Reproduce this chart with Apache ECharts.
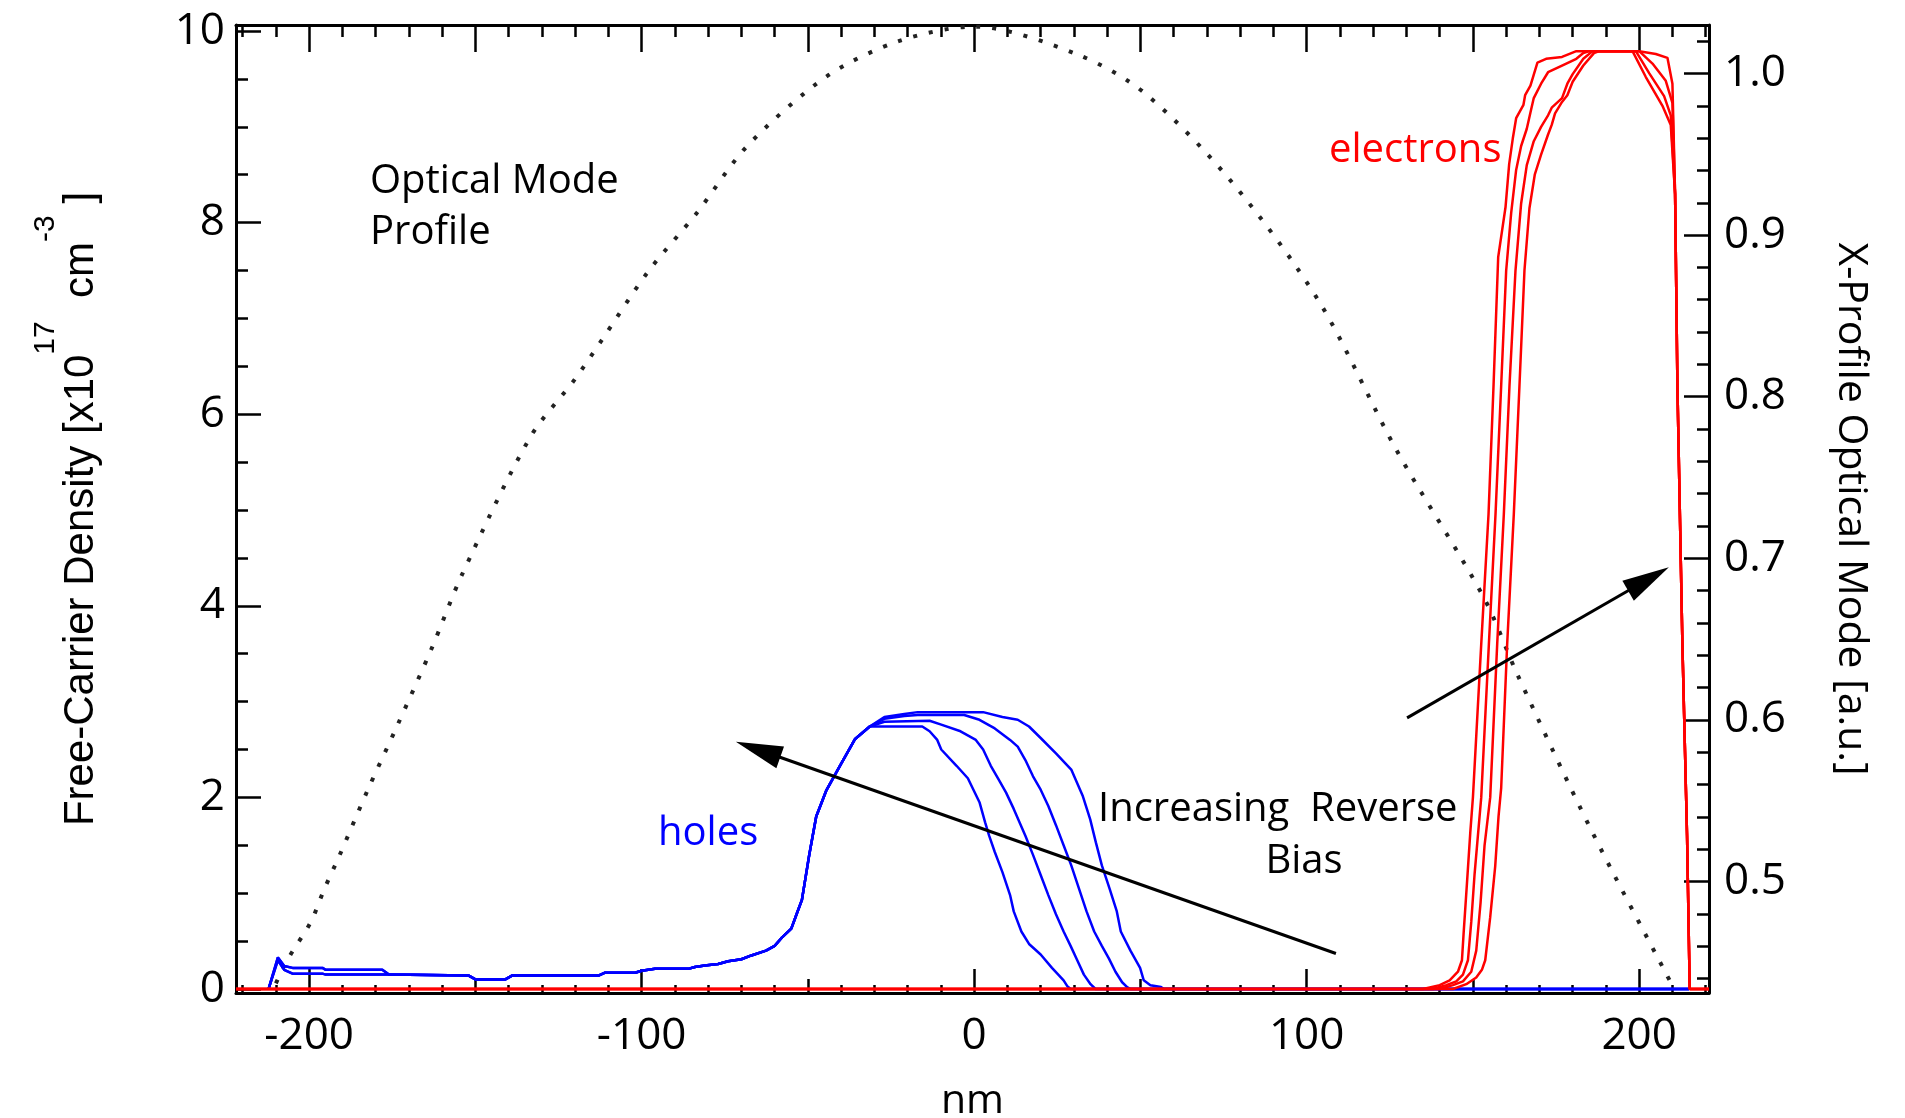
<!DOCTYPE html>
<html>
<head>
<meta charset="utf-8">
<title>Free-Carrier Density and Optical Mode</title>
<script src="https://cdn.jsdelivr.net/npm/echarts@6.0.0/dist/echarts.min.js"></script>
<style>
  html, body { margin: 0; padding: 0; background: #fff; }
  #chart { width: 1905px; height: 1118px; }
</style>
</head>
<body>
<div id="chart"></div>
<script>
// tick labels
const xMajorBottom = [-200, -100, 0, 100, 200];
const xMidBottom = [-150, -50, 50, 150];
const xMajorTop = [-200, -150, -100, -50, 0, 50, 100, 150, 200];
const yLeftLabels = [0, 2, 4, 6, 8, 10];
const yRightLabels = [0.5, 0.6, 0.7, 0.8, 0.9, 1.0];

// holes: [nm, 1e17 cm^-3], four bias levels share the left flank
const holesLeftHigh = [[-212.2, 0], [-209.4, 0.33], [-207.5, 0.24], [-205, 0.22], [-196, 0.22], [-195, 0.2], [-178, 0.2], [-176, 0.15]];
const holesLeftLow = [[-212.2, 0], [-209.4, 0.3], [-207.5, 0.2], [-205, 0.16], [-196, 0.16], [-195, 0.15], [-176, 0.15]];
const holesRise = [[-152, 0.14], [-150, 0.1], [-141, 0.1], [-139, 0.14], [-113, 0.14], [-111, 0.17], [-102, 0.17],
  [-100, 0.19], [-96, 0.21], [-86, 0.21], [-84, 0.23], [-81, 0.245], [-77, 0.26], [-74, 0.29], [-70, 0.31],
  [-67, 0.35], [-62.6, 0.4], [-60, 0.45], [-58, 0.53], [-55, 0.63], [-53.3, 0.79], [-51.8, 0.93], [-49.6, 1.4],
  [-47.5, 1.8], [-44.5, 2.07], [-40.2, 2.34], [-35.8, 2.61], [-31.4, 2.74]];
const holesTail1 = [[-27, 2.84], [-21, 2.87], [-17, 2.89], [2.7, 2.89], [8.5, 2.84], [13.1, 2.81], [16.5, 2.74],
  [20, 2.62], [24.6, 2.46], [29.2, 2.29], [32.6, 2.02], [34.9, 1.77], [36.6, 1.53], [38.4, 1.29], [40.7, 1.05],
  [42.9, 0.81], [44.1, 0.6], [47, 0.4], [49.9, 0.22], [51, 0.09], [53, 0.04], [56.2, 0.02], [57, 0], [215, 0]];
const holesTail2 = [[-27, 2.79], [-13.4, 2.8], [-9.9, 2.76], [-4.1, 2.69], [0.5, 2.6], [2.7, 2.5], [5, 2.33],
  [7.3, 2.19], [9.6, 2.05], [11.9, 1.88], [15.4, 1.6], [17.7, 1.4], [20, 1.19], [22.3, 0.98], [24.6, 0.78],
  [26.9, 0.6], [29, 0.45], [31, 0.3], [33, 0.15], [35, 0.05], [36.5, 0], [215, 0]];
const holesTail3 = [[-27, 2.82], [-21, 2.85], [-17, 2.86], [-3, 2.86], [1.6, 2.81], [6.2, 2.72], [10.8, 2.6],
  [13.1, 2.53], [15.4, 2.39], [17.7, 2.22], [20, 2.08], [22.3, 1.91], [24.6, 1.71], [26.9, 1.5], [29.2, 1.29],
  [31.5, 1.05], [33.8, 0.81], [36.1, 0.6], [38.4, 0.45], [40.5, 0.32], [42.5, 0.18], [44.5, 0.07], [46, 0.02],
  [47, 0], [215, 0]];
const holesTail4 = [[-27.7, 2.74], [-15.6, 2.74], [-13.4, 2.69], [-11.1, 2.6], [-9.9, 2.5], [-5.3, 2.33],
  [-1.9, 2.2], [1.6, 1.95], [3.3, 1.74], [4.5, 1.6], [6.2, 1.43], [8.5, 1.22], [10.8, 0.98], [11.9, 0.81],
  [14.2, 0.6], [16.5, 0.47], [20, 0.36], [23.4, 0.22], [26.9, 0.09], [28, 0.03], [29, 0], [215, 0]];

// electrons: [nm, 1e17 cm^-3], same four bias levels
const electrons1 = [[-222, 0], [135, 0], [140, 0.04], [143, 0.09], [145.5, 0.18], [146.7, 0.3], [147.2, 0.58],
  [148.2, 1.1], [149.2, 1.63], [150, 2.0], [152.5, 3.6], [154.7, 4.96], [156.2, 6.3], [157.6, 7.64], [159.8, 8.16],
  [160.9, 8.61], [162, 8.88], [163, 9.09], [165.2, 9.23], [165.7, 9.33], [167.3, 9.43], [169.4, 9.67], [172, 9.71],
  [176.8, 9.73], [181.1, 9.79], [200, 9.79], [205, 9.76], [208.5, 9.72], [210, 9.45], [210.8, 8.3]];
const electrons2 = [[-222, 0], [138, 0], [142, 0.04], [145, 0.08], [147, 0.15], [148.5, 0.3], [149.5, 0.7],
  [150.5, 1.2], [151.5, 1.6], [152.5, 2.0], [154.8, 3.6], [156.8, 4.96], [158.5, 6.3], [160, 7.5], [161.5, 8.1],
  [163, 8.55], [164.5, 8.8], [166.2, 8.98], [167.3, 9.15], [168.3, 9.3], [170.5, 9.45], [172.6, 9.57],
  [176.8, 9.64], [181.1, 9.71], [183.2, 9.77], [185, 9.79], [200, 9.79], [204, 9.66], [208, 9.48], [210, 9.25],
  [210.8, 8.3]];
const electrons3 = [[-222, 0], [140, 0], [144, 0.04], [147, 0.08], [149.5, 0.18], [151, 0.4], [152.3, 0.9],
  [153.5, 1.5], [155.2, 2.0], [157.3, 3.6], [159.3, 4.96], [161, 6.3], [162.8, 7.5], [164.5, 8.2], [166.2, 8.6],
  [168.3, 8.85], [170.5, 9.0], [172.6, 9.12], [173.7, 9.2], [176.8, 9.3], [178.4, 9.45], [180, 9.55],
  [183.2, 9.71], [186, 9.79], [199, 9.79], [203, 9.56], [207.5, 9.32], [209.5, 9.12], [210.8, 8.3]];
const electrons4 = [[-222, 0], [144, 0], [148, 0.05], [151, 0.12], [152.7, 0.2], [153.7, 0.3], [155.2, 0.75],
  [156.7, 1.28], [157.7, 1.8], [158.5, 2.1], [160.3, 3.6], [162.3, 4.96], [164, 6.3], [165.5, 7.5], [167, 8.15],
  [168.6, 8.5], [170.5, 8.71], [172.6, 8.92], [173.7, 9.02], [174.7, 9.14], [176.8, 9.26], [178.4, 9.33],
  [180, 9.47], [183.2, 9.64], [186.4, 9.77], [188, 9.79], [198, 9.79], [202, 9.52], [207, 9.22], [209.5, 9.02],
  [210.8, 8.3]];
const electronsDrop = [[211.5, 6.3], [213, 3.6], [214.4, 1.6], [215.2, 0], [221, 0]];

// optical mode profile: [nm, a.u.] on the right axis
const opticalMode = [[-210, 0.437], [-206.4, 0.452], [-199.5, 0.475], [-195.5, 0.495], [-190.9, 0.516],
  [-182.3, 0.557], [-173.6, 0.596], [-163.2, 0.644], [-154, 0.69], [-133.5, 0.775], [-120, 0.811], [-112, 0.835],
  [-98.2, 0.877], [-83.3, 0.914], [-68.3, 0.955], [-44.5, 0.998], [-22.7, 1.02], [0, 1.029], [30.8, 1.012],
  [51.2, 0.988], [77.4, 0.933], [103.7, 0.859], [127, 0.767], [153.2, 0.676], [163.4, 0.628], [185.3, 0.533],
  [208.6, 0.441], [210.5, 0.434]];

// arrows "Increasing Reverse Bias": [tail, head centre]
const holesArrow = [[108.8, 0.37], [-65.0, 2.5]];
const electronsArrow = [[130.2, 2.83], [202.8, 4.28]];

const steps = (from, to, step) => {
  const out = [];
  for (let v = from; v <= to + 1e-9; v += step) out.push(Math.round(v * 1000) / 1000);
  return out;
};
const xMinor = steps(-220, 220, 10);
const yLeftMinor = steps(0, 10, 0.5);
const yRightMinor = steps(0.44, 1.02, 0.02);

const X_MIN = -222, X_MAX = 221;
const YL_MIN = -0.042, YL_MAX = 10.063;
const YR_MIN = 0.431, YR_MAX = 1.03;

const black = '#000';
const tickLine = { color: black, width: 2.5 };
const tickFont = { fontFamily: '"Open Sans"', fontSize: 44, color: black };

// one axis per tick size, all stacked on the same frame
const tickAxis = (extra, values, length) => Object.assign({
  type: 'value',
  splitLine: { show: false },
  axisLine: { show: false, onZero: false },
  axisLabel: { show: false },
  axisTick: { show: true, inside: true, length: length, customValues: values, lineStyle: tickLine }
}, extra);

const chart = echarts.init(document.getElementById('chart'));

const holeColor = '#0000ff';
const elecColor = '#ff0000';

const curve = (data, color, z) => ({
  type: 'line',
  data: data,
  xAxisIndex: 0,
  yAxisIndex: 0,
  symbol: 'none',
  showSymbol: false,
  silent: true,
  z: z,
  itemStyle: { color: color },
  lineStyle: { color: color, width: 2.5 }
});

const holeSeries = [
  holesLeftHigh.concat(holesRise, holesTail1),
  holesLeftHigh.concat(holesRise, holesTail2),
  holesLeftLow.concat(holesRise, holesTail3),
  holesLeftLow.concat(holesRise, holesTail4)
].map(d => curve(d, holeColor, 2));

const elecSeries = [electrons1, electrons2, electrons3, electrons4]
  .map(d => curve(d.concat(electronsDrop), elecColor, 3));

holeSeries[0].markLine = {
  silent: true,
  animation: false,
  symbol: ['none', 'triangle'],
  symbolSize: [23, 47],
  label: { show: false },
  emphasis: { disabled: true },
  itemStyle: { color: black },
  lineStyle: { color: black, width: 3, type: 'solid' },
  data: [
    [{ coord: holesArrow[0] }, { coord: holesArrow[1] }],
    [{ coord: electronsArrow[0] }, { coord: electronsArrow[1] }]
  ]
};

const textFont = '40px "Open Sans"';
const note = (x, y, text, color, align) => ({
  type: 'text',
  x: x,
  y: y,
  silent: true,
  style: {
    text: text,
    font: textFont,
    fill: color || black,
    textAlign: align || 'left',
    textVerticalAlign: 'middle'
  }
});

const option = {
  backgroundColor: '#fff',
  animation: false,
  grid: { left: 236, right: 196, top: 25, bottom: 125, containLabel: false, outerBoundsMode: 'none' },
  xAxis: [
    {
      type: 'value',
      position: 'bottom',
      min: X_MIN,
      max: X_MAX,
      splitLine: { show: false },
      axisLine: { show: true, onZero: false, lineStyle: { color: black, width: 3 } },
      axisTick: { show: true, inside: true, length: 24, customValues: xMajorBottom, lineStyle: tickLine },
      axisLabel: Object.assign({ show: true, margin: 21, customValues: xMajorBottom }, tickFont),
      name: 'nm',
      nameLocation: 'middle',
      nameGap: 88,
      nameMoveOverlap: false,
      nameTextStyle: { fontFamily: '"Open Sans"', fontSize: 41, color: black, lineHeight: 41 }
    },
    tickAxis({ position: 'bottom', min: X_MIN, max: X_MAX }, xMidBottom, 14),
    tickAxis({ position: 'bottom', min: X_MIN, max: X_MAX }, xMinor, 8),
    tickAxis({ position: 'top', min: X_MIN, max: X_MAX,
      axisLine: { show: true, onZero: false, lineStyle: { color: black, width: 3 } } }, xMajorTop, 27),
    tickAxis({ position: 'top', min: X_MIN, max: X_MAX }, xMinor, 12)
  ],
  yAxis: [
    {
      type: 'value',
      position: 'left',
      min: YL_MIN,
      max: YL_MAX,
      splitLine: { show: false },
      axisLine: { show: true, onZero: false, lineStyle: { color: black, width: 3 } },
      axisTick: { show: true, inside: true, length: 25, customValues: yLeftLabels, lineStyle: tickLine },
      axisLabel: Object.assign({ show: true, margin: 11, customValues: yLeftLabels }, tickFont),
      name: '{m|Free-Carrier Density [x10}{s|17}{m|  cm}{s|-3}{m| ]}',
      nameLocation: 'middle',
      nameRotate: 90,
      nameGap: 132,
      nameMoveOverlap: false,
      nameTextStyle: {
        rich: {
          m: { fontFamily: '"Liberation Sans"', fontSize: 42, color: black, lineHeight: 46 },
          s: { fontFamily: '"Liberation Sans"', fontSize: 30, color: black, lineHeight: 30, padding: [0, 0, 70, 0] }
        }
      }
    },
    {
      type: 'value',
      position: 'right',
      min: YR_MIN,
      max: YR_MAX,
      splitLine: { show: false },
      axisLine: { show: true, onZero: false, lineStyle: { color: black, width: 3 } },
      axisTick: { show: true, inside: true, length: 25, customValues: yRightLabels, lineStyle: tickLine },
      axisLabel: Object.assign({ show: true, margin: 15, customValues: yRightLabels,
        formatter: v => v.toFixed(1) }, tickFont),
      name: 'X-Profile Optical Mode [a.u.]',
      nameLocation: 'middle',
      nameRotate: -90,
      nameGap: 121,
      nameMoveOverlap: false,
      nameTextStyle: { fontFamily: '"Open Sans"', fontSize: 41, color: black, lineHeight: 41 }
    },
    tickAxis({ position: 'left', min: YL_MIN, max: YL_MAX }, yLeftMinor, 12),
    tickAxis({ position: 'right', min: YR_MIN, max: YR_MAX }, yRightMinor, 12)
  ],
  series: [
    {
      type: 'line',
      data: opticalMode,
      xAxisIndex: 0,
      yAxisIndex: 1,
      symbol: 'none',
      showSymbol: false,
      smooth: 0.3,
      silent: true,
      z: 1,
      itemStyle: { color: '#222' },
      lineStyle: { color: '#222', width: 4, type: [4, 12], cap: 'butt' }
    }
  ].concat(holeSeries, elecSeries),
  graphic: [
    note(370, 182, 'Optical Mode'),
    note(370, 233, 'Profile'),
    note(658, 834, 'holes', holeColor),
    note(1329, 151, 'electrons', elecColor),
    note(1098, 810, 'Increasing  Reverse'),
    note(1304, 862, 'Bias', black, 'center')
  ]
};

chart.setOption(option);
window.addEventListener('resize', () => chart.resize());
</script>
</body>
</html>
